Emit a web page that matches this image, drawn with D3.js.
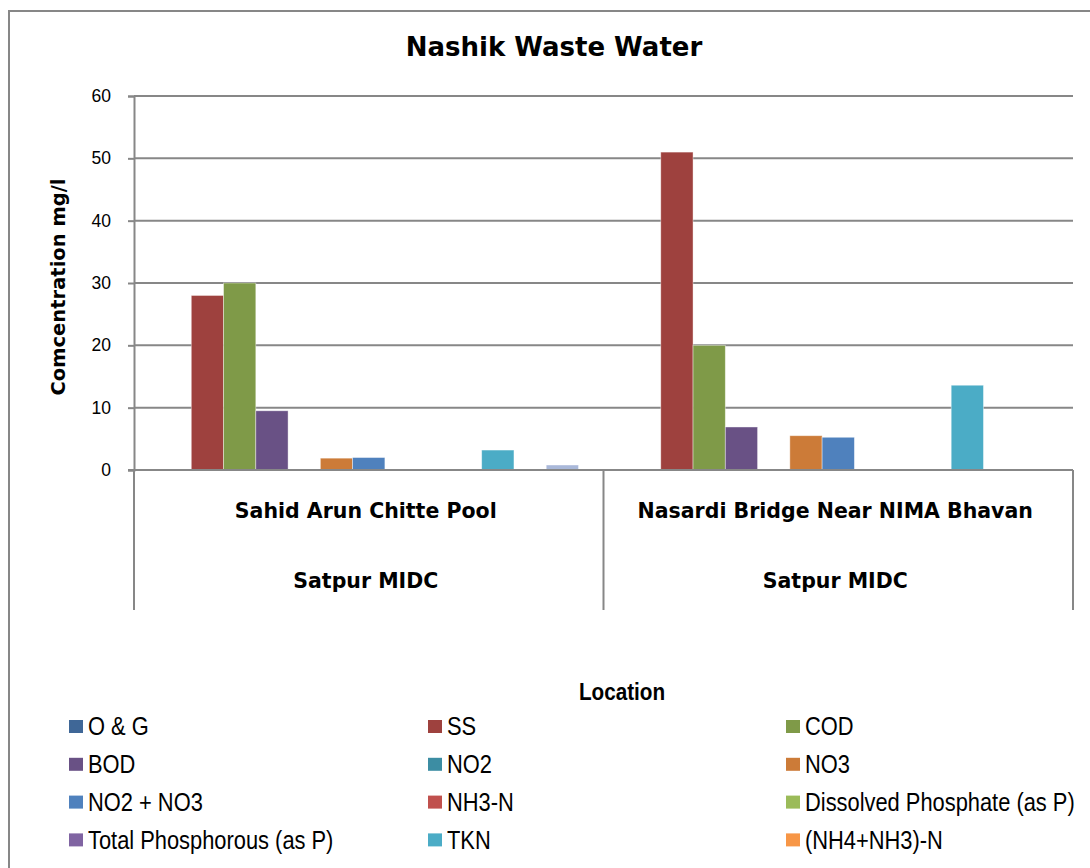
<!DOCTYPE html>
<html>
<head>
<meta charset="utf-8">
<script src="https://cdn.jsdelivr.net/npm/d3@7/dist/d3.min.js"></script>
<style>
  html, body { margin: 0; padding: 0; background: #fff; overflow: hidden; }
  svg { display: block; }
</style>
</head>
<body>
<svg id="chart" width="1090" height="868"></svg>
<script>
// ---- data ----
const locations = ["Sahid Arun Chitte Pool", "Nasardi Bridge Near NIMA Bhavan"];
const areas = ["Satpur MIDC", "Satpur MIDC"];
const seriesNames = ["O & G", "SS", "COD", "BOD", "NO2", "NO3", "NO2 + NO3", "NH3-N",
  "Dissolved Phosphate (as P)", "Total Phosphorous (as P)", "TKN", "(NH4+NH3)-N", "Other"];
const seriesColors = ["#3F6797", "#9E413E", "#7F9A48", "#695185", "#3C8DA3", "#CC7B38", "#4F81BD",
  "#C0504D", "#9BBB59", "#8064A2", "#4BACC6", "#F79646", "#A9B8D9"];
const valuesSahid = [0, 28, 30, 9.5, 0, 1.9, 2.0, 0, 0, 0, 3.2, 0, 0.8];
const valuesNasardi = [0, 51, 20, 6.9, 0, 5.5, 5.25, 0, 0, 0, 13.6, 0, 0];
const yTicks = [0, 10, 20, 30, 40, 50, 60];

const allValues = [valuesSahid, valuesNasardi];

const svg = d3.select("#chart");
const grey = "#878787";

// outer chart border
svg.append("rect").attr("x", 9).attr("y", 11).attr("width", 1200).attr("height", 1000)
  .attr("fill", "none").attr("stroke", grey).attr("stroke-width", 2);

const plot = { left: 134, right: 1073, top: 96, bottom: 470 };

const y = d3.scaleLinear().domain([0, 60]).range([plot.bottom, plot.top]);
const x0 = d3.scaleBand().domain(d3.range(locations.length)).range([plot.left, plot.right]).padding(0);
const x1 = d3.scaleBand().domain(seriesNames).range([0, x0.bandwidth()]).paddingInner(0).paddingOuter(0.775);

// gridlines
svg.append("g").selectAll("line").data(yTicks.filter(d => d > 0)).join("line")
  .attr("x1", plot.left).attr("x2", plot.right)
  .attr("y1", d => y(d)).attr("y2", d => y(d))
  .attr("stroke", grey).attr("stroke-width", 2);

// y axis
const yAxis = d3.axisLeft(y).tickValues(yTicks).tickSize(6).tickPadding(17);
const gy = svg.append("g").attr("transform", `translate(${plot.left},0)`).call(yAxis);
gy.select(".domain").attr("stroke", grey).attr("stroke-width", 2);
gy.selectAll(".tick line").attr("stroke", grey).attr("stroke-width", 2);
gy.selectAll(".tick text").attr("font-family", "'Liberation Sans', Arial, sans-serif")
  .attr("font-size", 17.5).attr("fill", "#000");

// bars
const groups = svg.append("g").selectAll("g").data(allValues).join("g")
  .attr("transform", (d, i) => `translate(${x0(i)},0)`);
groups.selectAll("rect").data(d => d.map((v, j) => ({ v, j }))).join("rect")
  .attr("x", d => x1(seriesNames[d.j]))
  .attr("width", x1.bandwidth())
  .attr("y", d => y(d.v))
  .attr("height", d => y(0) - y(d.v))
  .attr("fill", d => seriesColors[d.j])
  .attr("stroke", "#ffffff").attr("stroke-opacity", 0.5).attr("stroke-width", 0.8);

// x axis line
svg.append("line").attr("x1", plot.left - 6).attr("x2", plot.right)
  .attr("y1", plot.bottom).attr("y2", plot.bottom)
  .attr("stroke", grey).attr("stroke-width", 2);

// category dividers
const dividers = [plot.left, x0(1), plot.right];
svg.append("g").selectAll("line").data(dividers).join("line")
  .attr("x1", d => d).attr("x2", d => d)
  .attr("y1", plot.bottom).attr("y2", 610)
  .attr("stroke", grey).attr("stroke-width", 2);

// category labels
const catFont = "'DejaVu Sans', Verdana, sans-serif";
svg.append("g").selectAll("text").data(locations).join("text")
  .attr("x", (d, i) => x0(i) + x0.bandwidth() / 2 - 3)
  .attr("y", 518)
  .attr("text-anchor", "middle")
  .attr("font-family", catFont).attr("font-weight", "bold").attr("font-size", 20.5)
  .text(d => d);
svg.append("g").selectAll("text").data(areas).join("text")
  .attr("x", (d, i) => x0(i) + x0.bandwidth() / 2 - 3)
  .attr("y", 588)
  .attr("text-anchor", "middle")
  .attr("font-family", catFont).attr("font-weight", "bold").attr("font-size", 20.5)
  .text(d => d);

// title
svg.append("text").attr("x", 554).attr("y", 56).attr("text-anchor", "middle")
  .attr("font-family", catFont).attr("font-weight", "bold").attr("font-size", 26)
  .text("Nashik Waste Water");

// y axis title
svg.append("text").attr("transform", "translate(65,287) rotate(-90)")
  .attr("text-anchor", "middle")
  .attr("font-family", catFont).attr("font-weight", "bold").attr("font-size", 19.5)
  .text("Comcentration mg/l");

// x axis title
svg.append("text").attr("transform", "translate(622,700) scale(0.9,1)").attr("text-anchor", "middle")
  .attr("font-family", "'Liberation Sans', Arial, sans-serif")
  .attr("font-weight", "bold").attr("font-size", 23)
  .text("Location");

// legend (the chart is cropped at the bottom, so the legend is clipped to the visible area)
svg.append("defs").append("clipPath").attr("id", "legclip")
  .append("rect").attr("x", 0).attr("y", 0).attr("width", 1090).attr("height", 858);
const legendFont = "'Liberation Sans', Arial, sans-serif";
const colX = [69, 428, 786];
const rowY0 = 726.5, rowStep = 37.8;
const legRoot = svg.append("g").attr("clip-path", "url(#legclip)");
const leg = legRoot.selectAll("g").data(seriesNames.slice(0, 12)).join("g")
  .attr("transform", (d, i) => `translate(${colX[i % 3]},${rowY0 + Math.floor(i / 3) * rowStep})`);
leg.append("rect").attr("x", 0).attr("y", -6.5).attr("width", 14).attr("height", 13)
  .attr("fill", (d, i) => seriesColors[i]);
leg.append("text").attr("transform", "translate(19,8.8) scale(0.875,1)")
  .attr("font-family", legendFont).attr("font-size", 25)
  .text(d => d);
</script>
</body>
</html>
